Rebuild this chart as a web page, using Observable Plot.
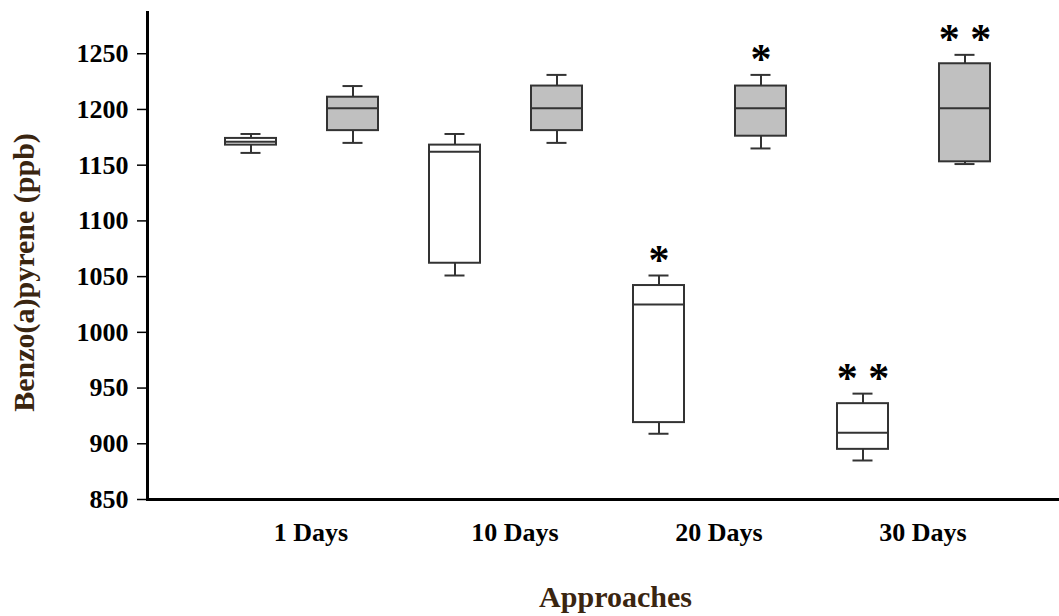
<!DOCTYPE html>
<html>
<head>
<meta charset="utf-8">
<script src="https://cdn.jsdelivr.net/npm/d3@7"></script>
<script src="https://cdn.jsdelivr.net/npm/@observablehq/plot@0.6"></script>
<style>
  html, body { margin: 0; padding: 0; background: #fff; }
  #chart svg { display: block; }
</style>
</head>
<body>
<div id="chart"></div>
<script>
// Categories
const days = ["1 Days", "10 Days", "20 Days", "30 Days"];
const seriesNames = ["white", "gray"];

// Left (white) boxes
const whiteMin    = [1161, 1051,  909,  885];
const whiteQ1     = [1168, 1062,  919,  895];
const whiteMedian = [1171, 1162, 1025,  910];
const whiteQ3     = [1174, 1168, 1042,  936];
const whiteMax    = [1178, 1178, 1051,  945];
const whiteStars  = ["", "", "*", "* *"];

// Right (gray) boxes
const grayMin    = [1170, 1170, 1165, 1151];
const grayQ1     = [1181, 1181, 1176, 1153];
const grayMedian = [1201, 1201, 1201, 1201];
const grayQ3     = [1211, 1221, 1221, 1241];
const grayMax    = [1221, 1231, 1231, 1249];
const grayStars  = ["", "", "*", "* *"];

// Axis ticks and titles
const yTicks = [850, 900, 950, 1000, 1050, 1100, 1150, 1200, 1250];
const yDomain = [850, 1287];
const yTitle = "Benzo(a)pyrene (ppb)";
const xTitle = "Approaches";

const rows = [];
days.forEach((d, i) => {
  rows.push({key: d + "|white", day: d, series: "white", min: whiteMin[i], q1: whiteQ1[i], median: whiteMedian[i], q3: whiteQ3[i], max: whiteMax[i], stars: whiteStars[i]});
  rows.push({key: d + "|gray", day: d, series: "gray", min: grayMin[i], q1: grayQ1[i], median: grayMedian[i], q3: grayQ3[i], max: grayMax[i], stars: grayStars[i]});
});
const keys = rows.map(r => r.key);

const font = "'Liberation Serif', 'Times New Roman', serif";
const boxStroke = "#333";
const fillFor = {white: "#ffffff", gray: "#c0c0c0"};

const chart = Plot.plot({
  width: 1059,
  height: 616,
  marginLeft: 147,
  marginRight: 0,
  marginTop: 12,
  marginBottom: 117,
  style: {fontFamily: font, fontWeight: "bold", background: "#fff", color: "#000", overflow: "visible"},
  x: {type: "band", domain: keys, paddingInner: 0.5, paddingOuter: 0.6956, align: 0.528, axis: null},
  y: {domain: yDomain, axis: null},
  marks: [
    Plot.frame({anchor: "left", stroke: "#000", strokeWidth: 3}),
    Plot.frame({anchor: "bottom", stroke: "#000", strokeWidth: 3}),
    Plot.axisY({ticks: yTicks, tickSize: 10, tickPadding: 9, tickFormat: d => String(d), fontSize: 26, fontWeight: "bold", fontFamily: font, stroke: "#000", strokeWidth: 1.5, label: null}),
    Plot.axisX({tickSize: 0, tickPadding: 23, dx: 60, fontSize: 26, fontWeight: "bold", fontFamily: font, label: null,
      tickFormat: k => k.endsWith("|white") ? k.split("|")[0] : ""}),
    // whiskers
    Plot.ruleX(rows, {x: "key", y1: "min", y2: "q1", stroke: boxStroke, strokeWidth: 2}),
    Plot.ruleX(rows, {x: "key", y1: "q3", y2: "max", stroke: boxStroke, strokeWidth: 2}),
    // caps
    Plot.tickY(rows, {x: "key", y: "min", stroke: boxStroke, strokeWidth: 2, insetLeft: 15.5, insetRight: 15.5}),
    Plot.tickY(rows, {x: "key", y: "max", stroke: boxStroke, strokeWidth: 2, insetLeft: 15.5, insetRight: 15.5}),
    // boxes
    Plot.barY(rows, {x: "key", y1: "q1", y2: "q3", fill: d => fillFor[d.series], stroke: boxStroke, strokeWidth: 2}),
    // medians
    Plot.tickY(rows, {x: "key", y: "median", stroke: boxStroke, strokeWidth: 2}),
    // significance stars
    Plot.text(rows, {x: "key", y: "max", text: "stars", dy: -15, lineAnchor: "middle", fontSize: 42, fontWeight: "bold", fontFamily: font, fill: "#000"}),
    // axis titles
    Plot.text([xTitle], {frameAnchor: "bottom", dx: 12, dy: 107, lineAnchor: "bottom", fontSize: 30, fontWeight: "bold", fontFamily: font, fill: "#3a2510"}),
    Plot.text([yTitle], {frameAnchor: "left", textAnchor: "middle", rotate: -90, dx: -123, dy: 16.5, lineAnchor: "middle", fontSize: 30, fontWeight: "bold", fontFamily: font, fill: "#3a2510"})
  ]
});
document.getElementById("chart").appendChild(chart);
</script>
</body>
</html>
